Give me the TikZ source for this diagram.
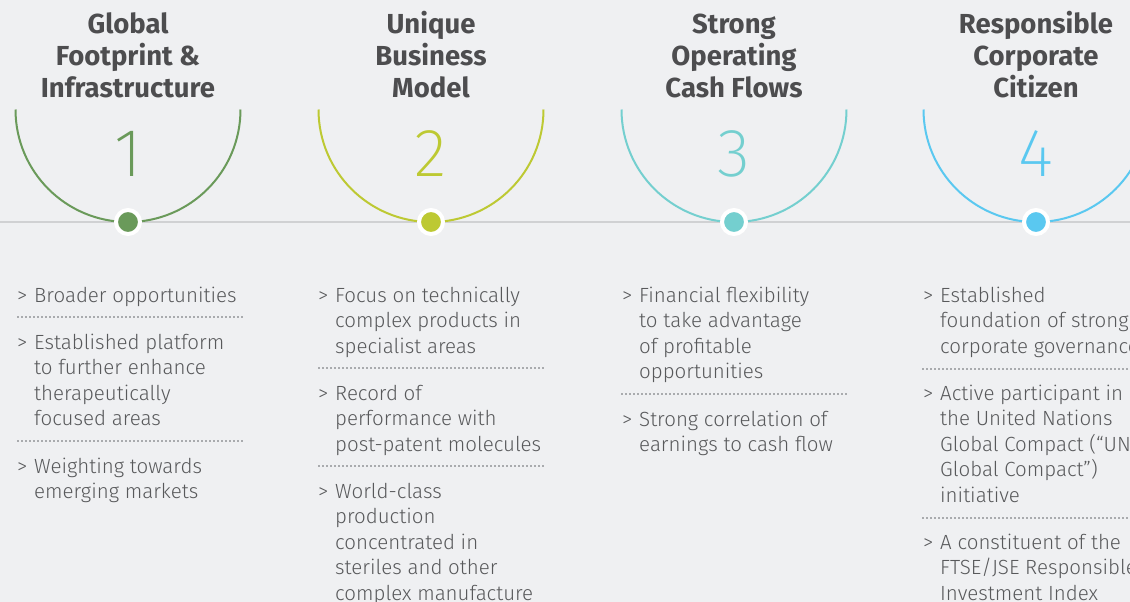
\documentclass[tikz,border=0pt]{standalone}
\usepackage{fontspec}
\setmainfont{Fira Sans}[UprightFont=* Light,BoldFont=* SemiBold]
\newfontfamily\numberfont{Fira Sans ExtraLight}
\newfontfamily\headfont{Fira Sans Bold}
\usetikzlibrary{positioning}
\definecolor{bggrey}{HTML}{EFF0F2}
\definecolor{textgrey}{HTML}{58595B}
\definecolor{headgrey}{HTML}{4D4D4F}
\definecolor{rulegrey}{HTML}{D0D1D3}
\definecolor{dotgrey}{HTML}{A9ABAE}
\definecolor{pillargreen}{HTML}{6A9A5A}
\definecolor{pillarlime}{HTML}{BDC933}
\definecolor{pillarteal}{HTML}{74CFCF}
\definecolor{pillarblue}{HTML}{5AC8F0}
\tikzstyle{heading}=[font=\headfont\fontsize{27.5}{32}\selectfont,text=headgrey,inner sep=0pt,anchor=base]
\tikzstyle{number}=[font=\numberfont\fontsize{68}{68}\selectfont,inner sep=0pt,anchor=base]
\tikzstyle{pillardot}=[circle,draw=white,line width=4pt,minimum size=24pt,inner sep=0pt]
\tikzstyle{ring}=[line width=2pt]
\tikzstyle{marker}=[font=\fontsize{20.5}{25.5}\selectfont,text=textgrey,inner sep=0pt,anchor=base west]
\tikzstyle{point}=[marker]
\tikzstyle{separator}=[draw=dotgrey,line width=1.5pt,dash pattern=on 1.5pt off 2.5pt]
\tikzstyle{timeline}=[draw=rulegrey,line width=2pt]

\begin{document}
\begin{tikzpicture}[x=1pt,y=-1pt]
    % Background and page size
    \fill[bggrey] (0,0) rectangle (1130,602);
    \clip (0,0) rectangle (1130,602);

    % Draw the timeline
    \coordinate (lineleft) at (0,222);
    \coordinate (lineright) at (1130,222);
    \path[timeline] (lineleft) -- (lineright);

    % Draw the four pillars: heading, half ring, number and dot
    \foreach \x/\name/\col/\num/\head in {128/p1/pillargreen/1/{Global\\Footprint \&\\Infrastructure}, 431/p2/pillarlime/2/{Unique\\Business\\Model}, 734/p3/pillarteal/3/{Strong\\Operating\\Cash Flows}, 1036/p4/pillarblue/4/{Responsible\\Corporate\\Citizen}}
    {
        \node[heading] (\name head) at (\x,34) {\parbox[t]{260pt}{\centering \head}};
        \draw[ring,draw=\col] (\x-112.5,109.5) arc (180:0:112.5);
        \node[number,text=\col] (\name num) at (\x,176) {\num};
        \node[pillardot,fill=\col] (\name) at (\x,222) {};
    }

    % Bullet points under each pillar
    \foreach \x/\name/\y/\lines in {
        17/a1/302/{Broader opportunities},
        17/a2/349/{Established platform\\to further enhance\\therapeutically\\focused areas},
        17/a3/473/{Weighting towards\\emerging markets},
        318/b1/302/{Focus on technically\\complex products in\\specialist areas},
        318/b2/400/{Record of\\performance with\\post-patent molecules},
        318/b3/498/{World-class\\production\\concentrated in\\steriles and other\\complex manufacture},
        622/c1/302/{Financial flexibility\\to take advantage\\of profitable\\opportunities},
        622/c2/426/{Strong correlation of\\earnings to cash flow},
        923/d1/302/{Established\\foundation of strong\\corporate governance},
        923/d2/400/{Active participant in\\the United Nations\\Global Compact (“UN\\Global Compact”)\\initiative},
        923/d3/549/{A constituent of the\\FTSE/JSE Responsible\\Investment Index}}
    {
        \node[marker] (\name m) at (\x,\y) {>};
        \node[point] (\name) at (\x+17,\y) {\parbox[t]{320pt}{\raggedright \lines}};
    }

    % Dotted separators between the points
    \foreach \xa/\xb/\y in {17/243/317, 17/243/441, 318/546/368, 318/546/466, 621/848/394, 922/1130/369, 922/1130/518}
        \path[separator] (\xa,\y) -- (\xb,\y);
\end{tikzpicture}
\end{document}
